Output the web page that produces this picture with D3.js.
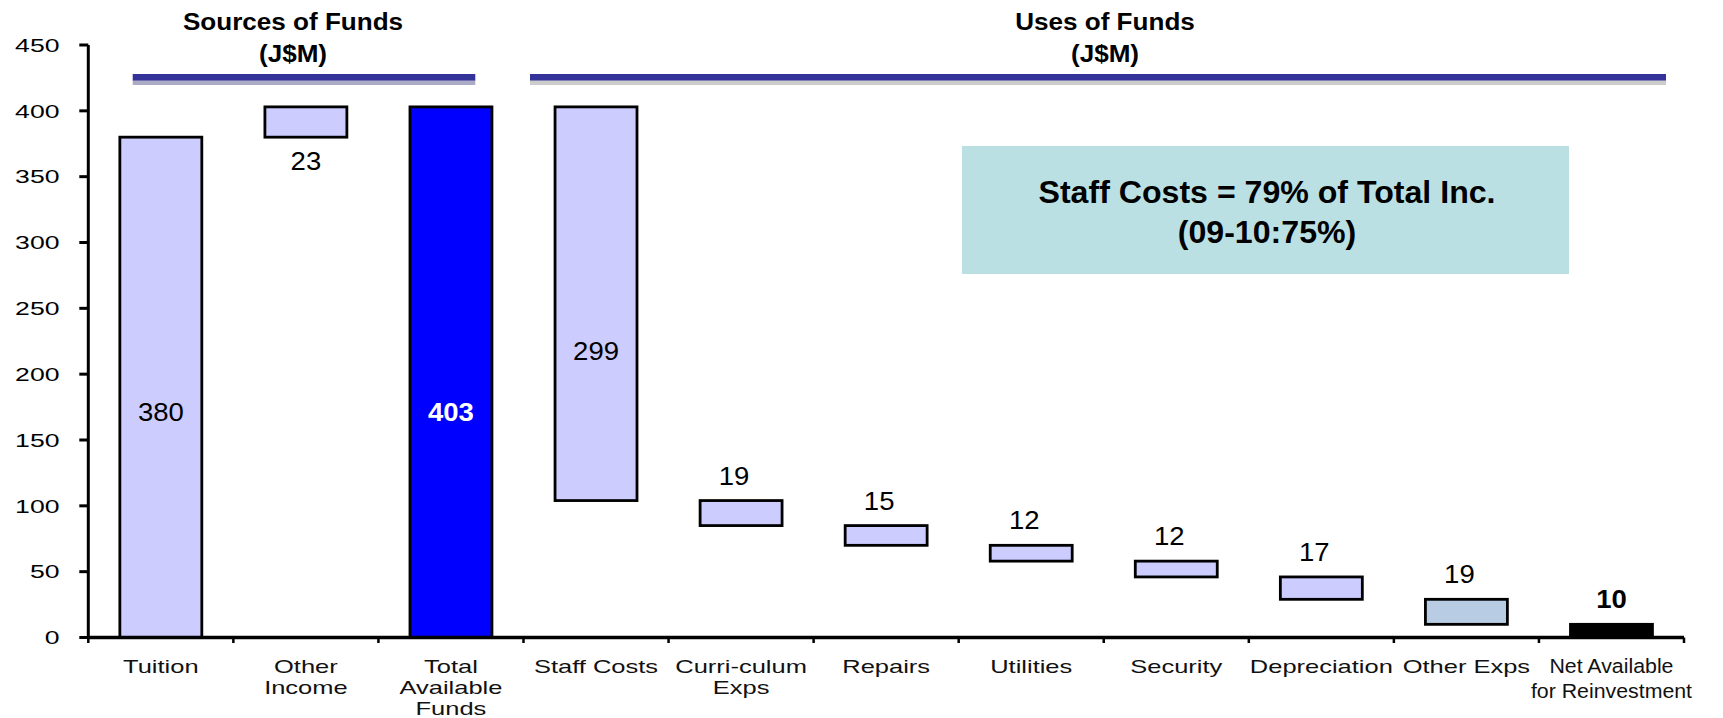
<!DOCTYPE html>
<html>
<head>
<meta charset="utf-8">
<script src="https://cdn.jsdelivr.net/npm/d3@7"></script>
<style>
  body { margin: 0; background: #fff; }
  text { font-family: "Liberation Sans", Arial, sans-serif; }
</style>
</head>
<body>
<div id="chart"></div>
<script>
var categories = ["Tuition", "Other\nIncome", "Total\nAvailable\nFunds", "Staff Costs", "Curri-culum\nExps",
  "Repairs", "Utilities", "Security", "Depreciation", "Other Exps", "Net Available\nfor Reinvestment"];
var amounts = [380, 23, 403, 299, 19, 15, 12, 12, 17, 19, 10];
var kinds = ["up", "up", "total", "down", "down", "down", "down", "down", "down", "down", "total"];
var yTicks = [0, 50, 100, 150, 200, 250, 300, 350, 400, 450];
var headers = [
  { lines: ["Sources of Funds", "(J$M)"], from: 0, to: 2 },
  { lines: ["Uses of Funds", "(J$M)"], from: 3, to: 10 }
];
var noteLines = ["Staff Costs = 79% of Total Inc.", "(09-10:75%)"];

var width = 1723, height = 718;
var padL = 88.3, padR = 1684, padT = 45, padB = 637.5;

var svg = d3.select("#chart").append("svg")
  .attr("width", width)
  .attr("height", height);

var x = d3.scaleBand()
  .domain(d3.range(categories.length))
  .range([padL, padR])
  .paddingInner(0.435)
  .paddingOuter(0.2175);

var y = d3.scaleLinear()
  .domain([0, 450])
  .range([padB, padT]);

// waterfall running totals
var run = 0;
var bars = amounts.map(function(v, i) {
  var lo, hi;
  if (kinds[i] == "up") { lo = run; hi = run + v; run = hi; }
  else if (kinds[i] == "down") { hi = run; lo = run - v; run = lo; }
  else { lo = 0; hi = v; run = v; }
  return { i: i, v: v, lo: lo, hi: hi };
});

var fills = ["#CCCCFF", "#CCCCFF", "#0000FF", "#CCCCFF", "#CCCCFF", "#CCCCFF",
  "#CCCCFF", "#CCCCFF", "#CCCCFF", "#B8CCE4", "#000000"];
// inside labels sit a bit below the middle of their bar
var insideShift = { 0: 34, 2: 49, 3: 56 };

// note box
svg.append("rect")
  .attr("x", 962).attr("y", 146)
  .attr("width", 607).attr("height", 128)
  .attr("fill", "#BBE0E3");

noteLines.forEach(function(t, k) {
  svg.append("text")
    .attr("transform", "translate(1267," + (202.5 + k * 40.5) + ") scale(1.02,1)")
    .attr("text-anchor", "middle")
    .attr("font-size", 31.5)
    .attr("font-weight", "bold")
    .attr("fill", "#000")
    .text(t);
});

// header bars + titles
var headerSpan = [[132.7, 475.3, "#ABABC6"], [530, 1666, "#CCCCCC"]];
headers.forEach(function(h, k) {
  var s = headerSpan[k];
  svg.append("rect")
    .attr("x", s[0]).attr("y", 80)
    .attr("width", s[1] - s[0]).attr("height", 5)
    .attr("fill", s[2]);
  svg.append("rect")
    .attr("x", s[0]).attr("y", 74)
    .attr("width", s[1] - s[0]).attr("height", 6.5)
    .attr("fill", "#333399");
  var cx = k == 0 ? 293 : 1105;
  h.lines.forEach(function(t, j) {
    svg.append("text")
      .attr("transform", "translate(" + cx + "," + (29.5 + j * 32) + ") scale(1.12,1)")
      .attr("text-anchor", "middle")
      .attr("font-size", 23.3)
      .attr("font-weight", "bold")
      .text(t);
  });
});

// bars
svg.selectAll("rect.bar")
  .data(bars)
  .enter()
  .append("rect")
  .attr("class", "bar")
  .attr("x", function(d) { return x(d.i); })
  .attr("width", x.bandwidth())
  .attr("y", function(d) { return y(d.hi); })
  .attr("height", function(d) { return y(d.lo) - y(d.hi); })
  .attr("fill", function(d) { return fills[d.i]; })
  .attr("stroke", "#000")
  .attr("stroke-width", 2.8);

// value labels
svg.selectAll("text.val")
  .data(bars)
  .enter()
  .append("text")
  .attr("class", "val")
  .attr("text-anchor", "middle")
  .attr("font-size", 25)
  .attr("font-weight", function(d) { return (d.i == 2 || d.i == 10) ? "bold" : "normal"; })
  .attr("fill", function(d) { return d.i == 2 ? "#fff" : "#000"; })
  .attr("transform", function(d) {
    var cx = x(d.i) + x.bandwidth() / 2, cy;
    if (d.i in insideShift) {
      cy = y((d.lo + d.hi) / 2) + insideShift[d.i];
    } else if (d.i == 1) {
      cy = y(d.lo) + 33;
    } else {
      cy = y(d.hi) - 16;
      if (d.i != 10) cx -= 7;
    }
    return "translate(" + cx + "," + cy + ") scale(1.1,1)";
  })
  .text(function(d) { return d.v; });

// y axis
svg.append("line")
  .attr("x1", padL).attr("x2", padL)
  .attr("y1", padT).attr("y2", padB)
  .attr("stroke", "#000").attr("stroke-width", 3);

yTicks.forEach(function(t) {
  svg.append("line")
    .attr("x1", padL - 9).attr("x2", padL)
    .attr("y1", y(t)).attr("y2", y(t))
    .attr("stroke", "#000").attr("stroke-width", 3);
  svg.append("text")
    .attr("transform", "translate(59.5," + (y(t) + 6.8) + ") scale(1.4,1)")
    .attr("text-anchor", "end")
    .attr("font-size", 19)
    .text(t);
});

// x axis
svg.append("line")
  .attr("x1", padL).attr("x2", padR)
  .attr("y1", padB).attr("y2", padB)
  .attr("stroke", "#000").attr("stroke-width", 3.5);

d3.range(categories.length + 1).forEach(function(i) {
  var xp = padL + i * x.step();
  svg.append("line")
    .attr("x1", xp).attr("x2", xp)
    .attr("y1", padB).attr("y2", padB + 5.5)
    .attr("stroke", "#000").attr("stroke-width", 2.5);
});

categories.forEach(function(c, i) {
  var cx = x(i) + x.bandwidth() / 2;
  var narrow = i == 10;
  c.split("\n").forEach(function(t, j) {
    svg.append("text")
      .attr("transform", "translate(" + cx + "," + (673 + j * (narrow ? 25 : 20.8)) + ") scale(" + (narrow ? 1.04 : 1.37) + ",1)")
      .attr("text-anchor", "middle")
      .attr("font-size", narrow ? 20.5 : 18.6)
      .attr("fill", "#111")
      .text(t);
  });
});
</script>
</body>
</html>
